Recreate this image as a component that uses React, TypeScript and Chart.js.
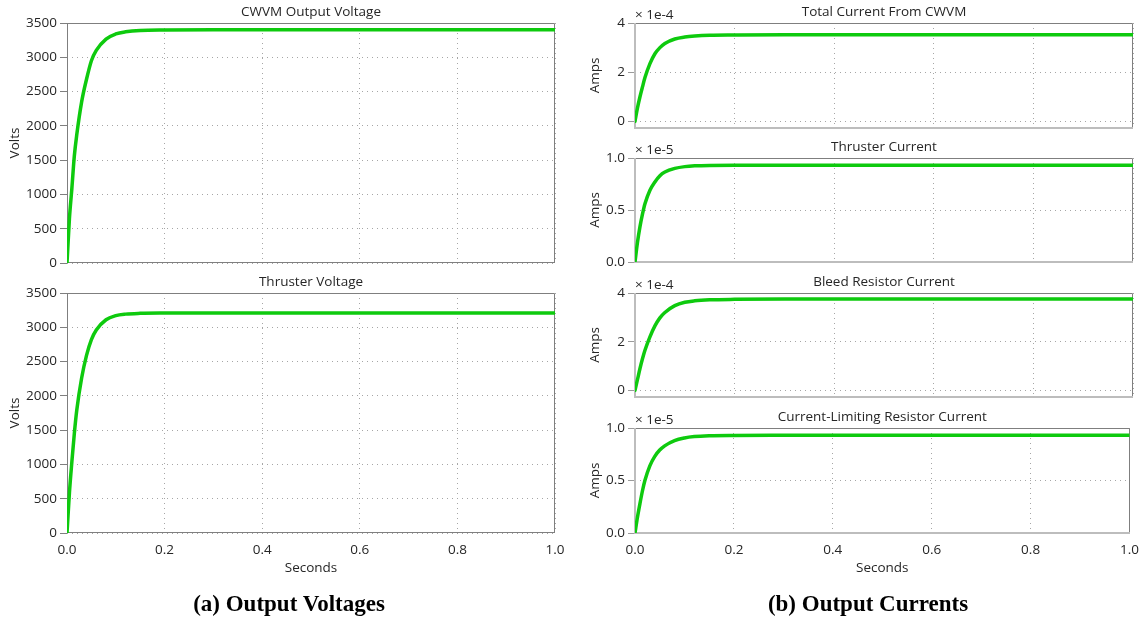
import React, { useEffect, useRef } from "react";
import { Chart, registerables } from "chart.js";

Chart.register(...registerables);

// ---------------- data ----------------
const timeSeconds = [0, 0.005, 0.01, 0.015, 0.02, 0.03, 0.04, 0.05, 0.06, 0.08, 0.1, 0.12, 0.15, 0.2, 0.3, 0.4, 0.5, 0.6, 0.7, 0.8, 0.9, 1.0];

// Volts
const cwvmOutputVoltage = [0, 650, 1090, 1560, 1870, 2350, 2680, 2950, 3100, 3265, 3340, 3372, 3392, 3398, 3400, 3400, 3400, 3400, 3400, 3400, 3400, 3400];
const thrusterVoltage = [0, 590, 1040, 1450, 1790, 2260, 2590, 2820, 2960, 3110, 3170, 3192, 3203, 3208, 3210, 3210, 3210, 3210, 3210, 3210, 3210, 3210];

// Amps (x 1e-4)
const totalCurrent = [0, 0.55, 1.0, 1.4, 1.78, 2.35, 2.75, 3.0, 3.17, 3.35, 3.43, 3.47, 3.5, 3.51, 3.52, 3.52, 3.52, 3.52, 3.52, 3.52, 3.52, 3.52];
// Amps (x 1e-5)
const thrusterCurrent = [0, 0.19, 0.34, 0.46, 0.56, 0.69, 0.77, 0.83, 0.865, 0.9, 0.917, 0.925, 0.929, 0.93, 0.93, 0.93, 0.93, 0.93, 0.93, 0.93, 0.93, 0.93];
// Amps (x 1e-4)
const bleedCurrent = [0, 0.45, 0.9, 1.3, 1.65, 2.2, 2.65, 2.98, 3.2, 3.48, 3.62, 3.68, 3.72, 3.74, 3.75, 3.75, 3.75, 3.75, 3.75, 3.75, 3.75, 3.75];
// Amps (x 1e-5)
const limitingCurrent = [0, 0.15, 0.28, 0.4, 0.5, 0.64, 0.73, 0.79, 0.83, 0.88, 0.905, 0.918, 0.926, 0.929, 0.93, 0.93, 0.93, 0.93, 0.93, 0.93, 0.93, 0.93];

const xTickValues = [0, 0.2, 0.4, 0.6, 0.8, 1.0];
const voltTickValues = [0, 500, 1000, 1500, 2000, 2500, 3000, 3500];
const amp4TickValues = [0, 2, 4];
const amp1TickValues = [0, 0.5, 1.0];

// ---------------- styling ----------------
const FONT_FAMILY = '"Open Sans", "Noto Sans", "DejaVu Sans", sans-serif';
const FONT_SIZE = 13.5;
const TEXT = "#262626";
const GRID = "#a6a6a6";
const GREEN = "rgb(14, 202, 14)";

const COLUMN: Record<string, any> = {
  left: { canvasLeft: 0, canvasWidth: 580, yTitleCenter: 15.5, sideColor: "#7f7f7f", sideWidth: 1, tick: "#7f7f7f" },
  right: { canvasLeft: 580, canvasWidth: 568, yTitleCenter: 595, sideColor: "#bdbdbd", sideWidth: 2, tick: "#9a9a9a" },
};

type Spec = {
  key: string;
  column: "left" | "right";
  title: string;
  yLabel: string;
  values: number[];
  yMin: number;
  yMax: number;
  yTicks: number[];
  yDigits: number;
  exponent?: string;
  showX: boolean;
  plot: { l: number; r: number; t: number; b: number };
};

const PANELS: Spec[] = [
  { key: "lt", column: "left", title: "CWVM Output Voltage", yLabel: "Volts", values: cwvmOutputVoltage, yMin: 0, yMax: 3500, yTicks: voltTickValues, yDigits: 0, showX: false, plot: { l: 67, r: 555, t: 23, b: 263 } },
  { key: "lb", column: "left", title: "Thruster Voltage", yLabel: "Volts", values: thrusterVoltage, yMin: 0, yMax: 3500, yTicks: voltTickValues, yDigits: 0, showX: true, plot: { l: 67, r: 555, t: 293, b: 533 } },
  { key: "r1", column: "right", title: "Total Current From CWVM", yLabel: "Amps", values: totalCurrent, yMin: -0.27, yMax: 4, yTicks: amp4TickValues, yDigits: 0, exponent: "\u00d7 1e-4", showX: false, plot: { l: 635, r: 1133, t: 23, b: 128 } },
  { key: "r2", column: "right", title: "Thruster Current", yLabel: "Amps", values: thrusterCurrent, yMin: 0, yMax: 1, yTicks: amp1TickValues, yDigits: 1, exponent: "\u00d7 1e-5", showX: false, plot: { l: 635, r: 1133, t: 158, b: 262 } },
  { key: "r3", column: "right", title: "Bleed Resistor Current", yLabel: "Amps", values: bleedCurrent, yMin: -0.27, yMax: 4, yTicks: amp4TickValues, yDigits: 0, exponent: "\u00d7 1e-4", showX: false, plot: { l: 635, r: 1133, t: 293, b: 397 } },
  { key: "r4", column: "right", title: "Current-Limiting Resistor Current", yLabel: "Amps", values: limitingCurrent, yMin: 0, yMax: 1, yTicks: amp1TickValues, yDigits: 1, exponent: "\u00d7 1e-5", showX: true, plot: { l: 635, r: 1133, t: 428, b: 533 } },
];

const framePlugin = {
  id: "frame",
  beforeDatasetsDraw(chart: any, _args: any, opts: any) {
    const { ctx, chartArea: a } = chart;
    const L = Math.round(a.left);
    const R = Math.round(a.right);
    const T = Math.round(a.top);
    const B = Math.round(a.bottom);
    ctx.save();
    ctx.setLineDash([]);
    ctx.strokeStyle = "#7f7f7f";
    ctx.lineWidth = 1;
    ctx.beginPath();
    ctx.moveTo(L, T + 0.5);
    ctx.lineTo(R - 0.5, T + 0.5);
    ctx.lineTo(R - 0.5, B);
    ctx.stroke();
    ctx.strokeStyle = opts.sideColor;
    ctx.lineWidth = opts.sideWidth;
    const off = opts.sideWidth % 2 === 1 ? 0.5 : 0;
    ctx.beginPath();
    ctx.moveTo(L + off, T);
    ctx.lineTo(L + off, B - off);
    ctx.lineTo(R, B - off);
    ctx.stroke();
    ctx.restore();
  },
};

const exponentPlugin = {
  id: "exponent",
  afterDraw(chart: any, _args: any, opts: any) {
    if (!opts || !opts.text) return;
    const { ctx, chartArea: a } = chart;
    ctx.save();
    ctx.font = `${FONT_SIZE}px ${FONT_FAMILY}`;
    ctx.fillStyle = TEXT;
    ctx.textAlign = "left";
    ctx.textBaseline = "middle";
    ctx.fillText(opts.text, a.left, a.top - 7.5);
    ctx.restore();
  },
};

function Panel({ spec }: { spec: Spec }) {
  const ref = useRef<HTMLCanvasElement | null>(null);
  const col = COLUMN[spec.column];
  const canvasTop = spec.plot.t - 24;
  const xAxisH = spec.showX ? 50 : 12;
  const height = spec.plot.b - canvasTop + xAxisH;
  const width = col.canvasWidth;

  useEffect(() => {
    const canvas = ref.current;
    if (!canvas) return;
    const lh = FONT_SIZE * 1.2;
    const titleCenter = 24 - 11;
    const titlePadTop = titleCenter - lh / 2;
    const titlePadBottom = 24 - titlePadTop - lh;
    const yTitlePad = col.yTitleCenter - col.canvasLeft - lh / 2;
    const xTitlePad = spec.plot.b + xAxisH - lh / 2 - 568.5;
    const plotLeftC = spec.plot.l - col.canvasLeft;
    const plotRightC = spec.plot.r - col.canvasLeft;
    const font = { family: FONT_FAMILY, size: FONT_SIZE, weight: "normal" as any };

    const chart = new Chart(canvas, {
      type: "line",
      data: {
        datasets: [
          {
            data: timeSeconds.map((t, i) => ({ x: t, y: spec.values[i] })),
            borderColor: GREEN,
            backgroundColor: GREEN,
            borderWidth: 3.5,
            pointRadius: 0,
            pointHoverRadius: 0,
            fill: false,
            cubicInterpolationMode: "monotone",
            borderCapStyle: "round",
            borderJoinStyle: "round",
          } as any,
        ],
      },
      options: {
        animation: false,
        responsive: false,
        maintainAspectRatio: false,
        events: [],
        layout: { padding: { left: 0, top: 0, bottom: 0, right: width - plotRightC } },
        plugins: {
          legend: { display: false },
          tooltip: { enabled: false },
          title: {
            display: true,
            text: spec.title,
            fullSize: false,
            color: TEXT,
            font,
            padding: { top: titlePadTop, bottom: titlePadBottom },
          },
          frame: { sideColor: col.sideColor, sideWidth: col.sideWidth },
          exponent: { text: spec.exponent || "" },
        } as any,
        scales: {
          x: {
            type: "linear",
            position: "bottom",
            min: 0,
            max: 1,
            afterBuildTicks: (s: any) => {
              s.ticks = xTickValues.map((v) => ({ value: v }));
            },
            afterFit: (s: any) => {
              s.height = xAxisH;
            },
            ticks: {
              display: spec.showX,
              autoSkip: false,
              maxRotation: 0,
              padding: 9,
              color: TEXT,
              font,
              callback: (v: any) => Number(v).toFixed(1),
            },
            grid: { color: GRID, lineWidth: 1, drawTicks: false, borderDash: [1, 4] } as any,
            border: { display: false, dash: [1, 4] },
            title: { display: spec.showX, text: "Seconds", color: TEXT, font, padding: { top: 0, bottom: xTitlePad } },
          },
          y: {
            type: "linear",
            min: spec.yMin,
            max: spec.yMax,
            afterBuildTicks: (s: any) => {
              s.ticks = spec.yTicks.map((v) => ({ value: v }));
            },
            afterFit: (s: any) => {
              s.width = plotLeftC;
            },
            ticks: {
              autoSkip: false,
              padding: 3,
              color: TEXT,
              font,
              callback: (v: any) => Number(v).toFixed(spec.yDigits),
            },
            grid: {
              color: GRID,
              lineWidth: 1,
              drawTicks: true,
              tickLength: 7,
              tickColor: col.tick,
              tickWidth: 1,
              tickBorderDash: [],
              borderDash: [1, 4],
            } as any,
            border: { display: false, dash: [1, 4] },
            title: { display: true, text: spec.yLabel, color: TEXT, font, padding: { top: yTitlePad, bottom: 0 } },
          },
        } as any,
      },
      plugins: [framePlugin, exponentPlugin],
    });
    return () => chart.destroy();
  }, [spec]);

  return (
    <canvas
      ref={ref}
      width={width}
      height={height}
      style={{ position: "absolute", left: col.canvasLeft, top: canvasTop, width, height }}
    />
  );
}

const captionStyle = (cx: number): React.CSSProperties => ({
  position: "absolute",
  left: cx - 200,
  width: 400,
  top: 591,
  textAlign: "center",
  fontFamily: '"Liberation Serif", "Times New Roman", serif',
  fontWeight: "bold",
  fontSize: 23,
  lineHeight: "26px",
  color: "#000",
});

export default function App() {
  return (
    <div style={{ position: "absolute", left: 0, top: 0, width: 1148, height: 621, background: "#fff", overflow: "hidden" }}>
      {PANELS.map((p) => (
        <Panel key={p.key} spec={p} />
      ))}
      <div style={captionStyle(289)}>(a) Output Voltages</div>
      <div style={captionStyle(868)}>(b) Output Currents</div>
    </div>
  );
}
